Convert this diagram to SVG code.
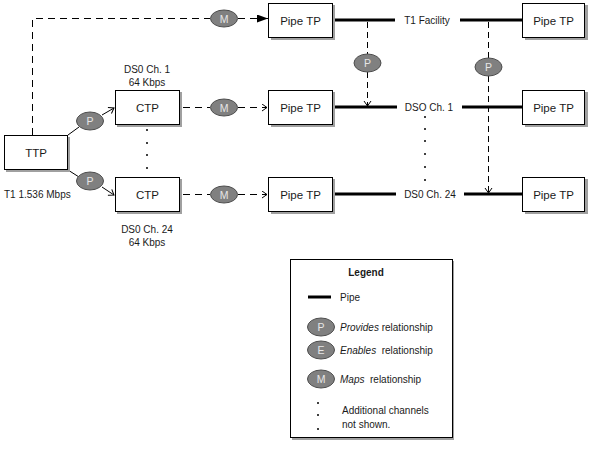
<svg xmlns="http://www.w3.org/2000/svg" width="591" height="452" viewBox="0 0 591 452">
<defs>
<style>
.box{fill:#fff;stroke:#000;stroke-width:1}
.sh{fill:#a0a0a0}
.bt{font-family:"Liberation Sans",Arial,sans-serif;font-size:11.5px;font-weight:normal;text-anchor:middle;fill:#1a1a1a}
.lt{font-family:"Liberation Sans",Arial,sans-serif;font-size:10px;fill:#1a1a1a}
.c{text-anchor:middle}
.ell{fill:#808080;stroke:#4d4d4d;stroke-width:1}
.et{font-family:"Liberation Sans",Arial,sans-serif;font-size:10.5px;text-anchor:middle;fill:#e6e6e6}
.pipe{stroke:#000;stroke-width:3;fill:none}
.dash{stroke:#000;stroke-width:1;fill:none;stroke-dasharray:7 5}
.solid{stroke:#000;stroke-width:1;fill:none}
.vd{stroke-dasharray:6 4}
.dot{fill:#000}
</style>
<marker id="fa" markerWidth="12" markerHeight="10" refX="11" refY="4" orient="auto" markerUnits="userSpaceOnUse">
<path d="M0,0 L11,4 L0,8 Z" fill="#000"/>
</marker>
<marker id="oa" markerWidth="10" markerHeight="10" refX="6" refY="4" orient="auto" markerUnits="userSpaceOnUse">
<path d="M1,0.5 L6,4 L1,7.5" fill="none" stroke="#000" stroke-width="1"/>
</marker>
</defs>

<g id="connectors">
<path class="dash" d="M32.5,135 V18.5 H210"/>
<path class="dash" d="M238,18.5 H268" marker-end="url(#fa)"/>
<path class="solid" d="M68,135 L79,127"/>
<path class="solid" d="M102,115 L114,108" marker-end="url(#oa)"/>
<path class="solid" d="M68,170 L79,177"/>
<path class="solid" d="M102,187 L114,195" marker-end="url(#oa)"/>
<path class="dash" d="M183,107.5 H210"/>
<path class="dash" d="M238,107.5 H267" marker-end="url(#oa)"/>
<path class="dash" d="M183,194.5 H210"/>
<path class="dash" d="M238,194.5 H267" marker-end="url(#oa)"/>
<path class="pipe" d="M335,20 H395 M460,20 H523"/>
<path class="pipe" d="M335,107 H397 M462,107 H523"/>
<path class="pipe" d="M335,194 H396 M464,194 H523"/>
<path class="dash vd" d="M367.5,22 V54"/>
<path class="dash vd" d="M367.5,72 V106" marker-end="url(#oa)"/>
<path class="dash vd" d="M488.5,22 V58"/>
<path class="dash vd" d="M488.5,76 V193" marker-end="url(#oa)"/>
</g>

<g id="ellipses">
<ellipse class="ell" cx="224" cy="18.5" rx="13.5" ry="8.5"/><text class="et" x="224" y="22.5">M</text>
<ellipse class="ell" cx="224" cy="107.5" rx="13.5" ry="8.5"/><text class="et" x="224" y="111.5">M</text>
<ellipse class="ell" cx="224" cy="194.5" rx="13.5" ry="8.5"/><text class="et" x="224" y="198.5">M</text>
<ellipse class="ell" cx="90" cy="121" rx="13.5" ry="9"/><text class="et" x="90" y="125">P</text>
<ellipse class="ell" cx="90" cy="181" rx="13.5" ry="9"/><text class="et" x="90" y="185">P</text>
<ellipse class="ell" cx="367.5" cy="63" rx="13.5" ry="9"/><text class="et" x="367.5" y="67">P</text>
<ellipse class="ell" cx="488.5" cy="67" rx="13.5" ry="9"/><text class="et" x="488.5" y="71">P</text>
</g>

<g id="ttp">
<rect class="sh" x="6" y="137" width="64" height="35"/>
<rect class="box" x="4.5" y="135.5" width="63" height="34"/>
<text class="bt" x="36" y="157">TTP</text>
<text class="lt" x="4" y="198">T1 1.536 Mbps</text>
</g>
<g id="ctp1">
<rect class="sh" x="117" y="92" width="65" height="35"/>
<rect class="box" x="115.5" y="90.5" width="64" height="34"/>
<text class="bt" x="147.5" y="112">CTP</text>
<text class="lt c" x="147" y="73">DS0 Ch. 1</text>
<text class="lt c" x="147" y="85.5">64 Kbps</text>
</g>
<g id="ctp24">
<rect class="sh" x="117" y="179" width="65" height="35"/>
<rect class="box" x="115.5" y="177.5" width="64" height="34"/>
<text class="bt" x="147.5" y="199">CTP</text>
<text class="lt c" x="147" y="233">DS0 Ch. 24</text>
<text class="lt c" x="147" y="245.5">64 Kbps</text>
</g>
<g id="ctp-dots">
<circle class="dot" cx="147" cy="130" r="1"/>
<circle class="dot" cx="147" cy="143" r="1"/>
<circle class="dot" cx="147" cy="155" r="1"/>
<circle class="dot" cx="147" cy="168" r="1"/>
</g>

<g id="pipe-tp-l1">
<rect class="sh" x="271" y="5" width="64" height="35"/>
<rect class="box" x="268.5" y="3.5" width="64" height="34"/>
<text class="bt" x="300.5" y="25">Pipe TP</text>
</g>
<g id="pipe-tp-l2">
<rect class="sh" x="271" y="92" width="64" height="35"/>
<rect class="box" x="268.5" y="90.5" width="64" height="34"/>
<text class="bt" x="300.5" y="112">Pipe TP</text>
</g>
<g id="pipe-tp-l3">
<rect class="sh" x="271" y="179" width="64" height="35"/>
<rect class="box" x="268.5" y="177.5" width="64" height="34"/>
<text class="bt" x="300.5" y="199">Pipe TP</text>
</g>
<g id="pipe-tp-r1">
<rect class="sh" x="525" y="5" width="63" height="35"/>
<rect class="box" x="522.5" y="3.5" width="62" height="34"/>
<text class="bt" x="553.5" y="25">Pipe TP</text>
</g>
<g id="pipe-tp-r2">
<rect class="sh" x="525" y="92" width="63" height="35"/>
<rect class="box" x="522.5" y="90.5" width="62" height="34"/>
<text class="bt" x="553.5" y="112">Pipe TP</text>
</g>
<g id="pipe-tp-r3">
<rect class="sh" x="525" y="179" width="63" height="35"/>
<rect class="box" x="522.5" y="177.5" width="62" height="34"/>
<text class="bt" x="553.5" y="199">Pipe TP</text>
</g>

<g id="pipe-labels">
<text class="lt c" x="427" y="23.5">T1 Facility</text>
<text class="lt c" x="429" y="110.5">DSO Ch. 1</text>
<text class="lt c" x="430" y="197.5">DS0 Ch. 24</text>
</g>
<g id="pipe-dots">
<circle class="dot" cx="425" cy="117" r="1"/>
<circle class="dot" cx="425" cy="129" r="1"/>
<circle class="dot" cx="425" cy="141" r="1"/>
<circle class="dot" cx="425" cy="154" r="1"/>
<circle class="dot" cx="425" cy="167" r="1"/>
<circle class="dot" cx="425" cy="180" r="1"/>
</g>

<g id="legend">
<rect class="sh" x="292" y="261" width="162" height="179"/>
<rect class="box" x="290.5" y="259.5" width="162" height="178"/>
<text class="lt c" x="366" y="276" font-weight="bold">Legend</text>
<path class="pipe" d="M308,297 H331"/>
<text class="lt" x="340" y="300.5">Pipe</text>
<ellipse class="ell" cx="321" cy="327" rx="13.5" ry="9"/><text class="et" x="321" y="331">P</text>
<text class="lt" x="340" y="330.5"><tspan font-style="italic">Provides</tspan> relationship</text>
<ellipse class="ell" cx="321" cy="350" rx="13.5" ry="9"/><text class="et" x="321" y="354">E</text>
<text class="lt" x="340" y="353.5" xml:space="preserve"><tspan font-style="italic">Enables</tspan>  relationship</text>
<ellipse class="ell" cx="321" cy="379" rx="13.5" ry="9"/><text class="et" x="321" y="383">M</text>
<text class="lt" x="340" y="382.5" xml:space="preserve"><tspan font-style="italic">Maps</tspan>  relationship</text>
<circle class="dot" cx="318" cy="403" r="1"/>
<circle class="dot" cx="318" cy="415" r="1"/>
<circle class="dot" cx="318" cy="429" r="1"/>
<text class="lt" x="342" y="414">Additional channels</text>
<text class="lt" x="342" y="427.5">not shown.</text>
</g>
</svg>
